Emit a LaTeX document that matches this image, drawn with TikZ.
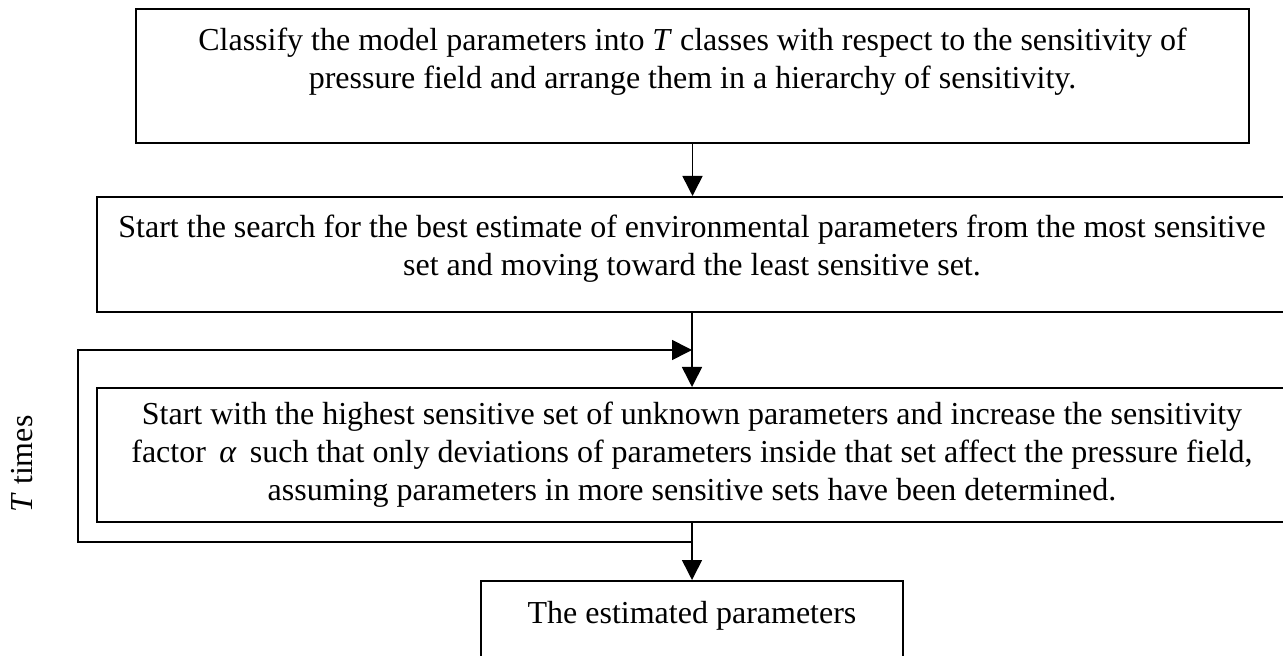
\documentclass[tikz,border=0pt]{standalone}
\usepackage{fontspec}
\setmainfont{Liberation Serif}
\usepackage{tikz}
\usetikzlibrary{arrows.meta,positioning,calc}

% extra room under the last line of a box
\newcommand{\lowpad}[1]{\rule[-#1]{0pt}{#1}}

\tikzset{
    stagebox/.style={draw, line width=1pt, align=center, inner sep=0pt,
        font=\fontsize{16}{19}\selectfont},
    flow/.style={-{Triangle[length=10pt,width=10pt]}, line width=0.8pt}
}

\begin{document}
\begin{tikzpicture}[x=0.5pt,y=-0.5pt]
\useasboundingbox (0,0) rectangle (1283,656);

    % Stages
    \node[stagebox, minimum width=556.5pt, minimum height=67pt] (classify) at (692.5,76)
        {Classify the model parameters into \textit{T} classes with respect to the sensitivity of\\
         pressure field and arrange them in a hierarchy of sensitivity.\lowpad{17.5pt}};
    \node[stagebox, minimum width=595pt, minimum height=57.5pt] (search) at (692,254.5)
        {Start the search for the best estimate of environmental parameters from the most sensitive\\
         set and moving toward the least sensitive set.\lowpad{9.5pt}};
    \node[stagebox, minimum width=595pt, minimum height=67pt] (refine) at (692,455)
        {Start with the highest sensitive set of unknown parameters and increase the sensitivity\\
         factor \,\textit{α}\, such that only deviations of parameters inside that set affect the pressure field,\\
         assuming parameters in more sensitive sets have been determined.};
    \node[stagebox, minimum width=211pt, minimum height=43.5pt] (result) at (692,624.5)
        {The estimated parameters\lowpad{12.5pt}};

    % Loop corners
    \coordinate (looptop) at (692,350);
    \coordinate (loopbot) at (692,542);
    \coordinate (backtop) at (78,350);
    \coordinate (backbot) at (78,542);

    % Arrows
    \draw[flow] (classify.south) -- (classify.south |- search.north);
    \draw[flow] (search.south) -- (refine.north);
    \draw[flow] (refine.south) -- (result.north);
    \draw[flow] (loopbot) -- (backbot) -- (backtop) -- (looptop);

    % Loop label
    \node[rotate=90, font=\fontsize{16}{19}\selectfont] (times) at (22,464) {\textit{T} times};
\end{tikzpicture}
\end{document}
